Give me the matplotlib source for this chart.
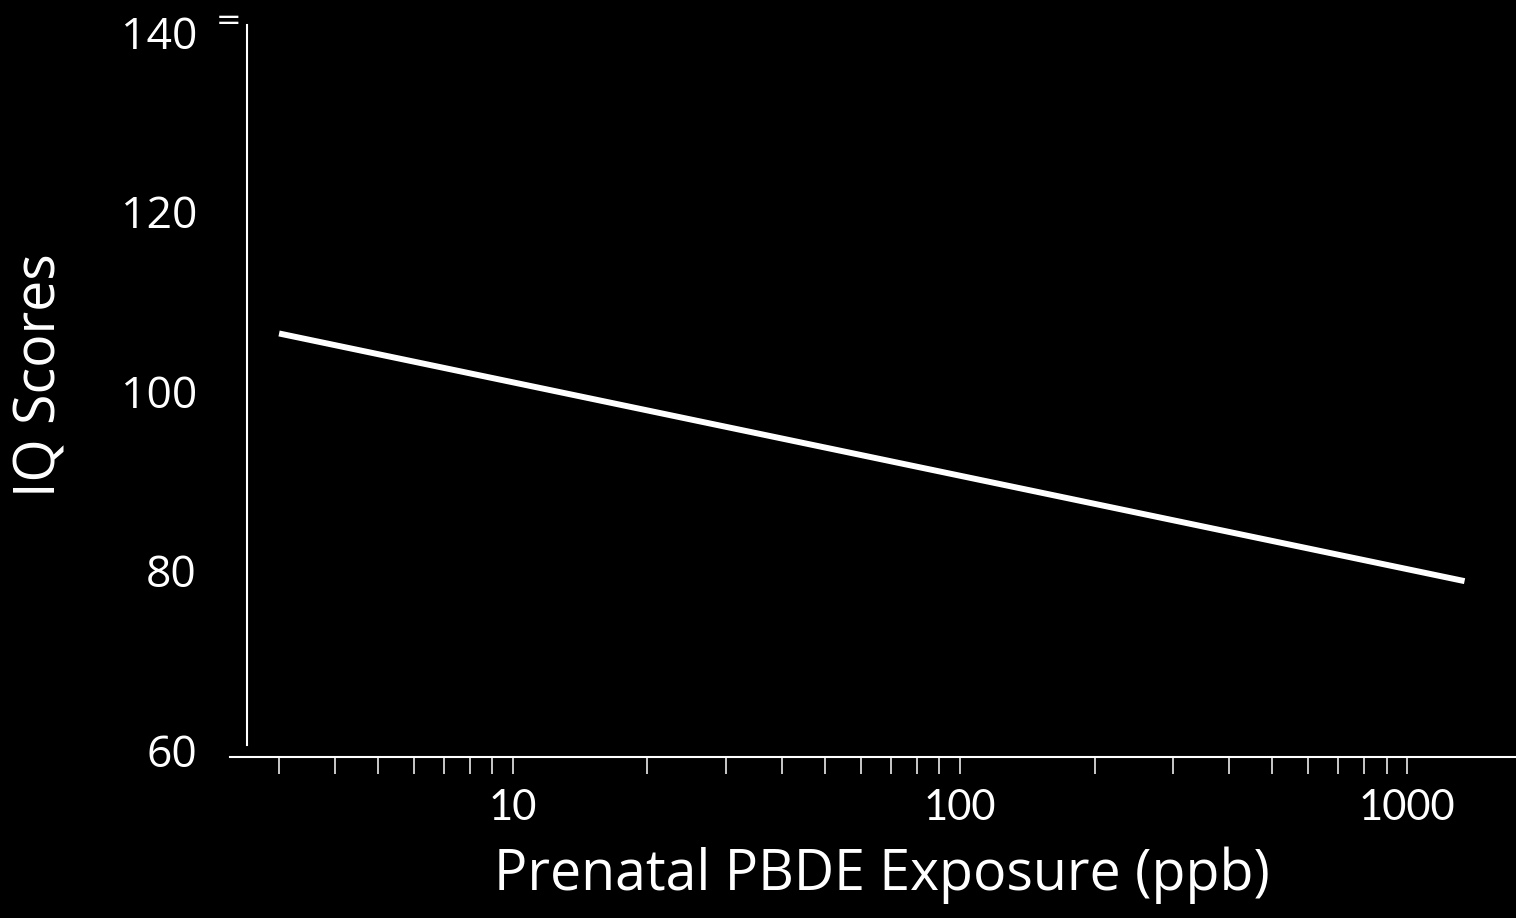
import numpy as np
import matplotlib
matplotlib.use('Agg')
import matplotlib.pyplot as plt
from matplotlib.ticker import FixedLocator, NullFormatter

# =====================================================================
# DATA
# =====================================================================
exposure_ppb = [3, 1345]          # start / end of the fitted line
iq_scores = [106.4, 78.8]

y_ticks = [60, 80, 100, 120, 140]
x_major = [10, 100, 1000]
x_major_labels = ["10", "100", "1000"]
x_minor = [3, 4, 5, 6, 7, 8, 9, 20, 30, 40, 50, 60, 70, 80, 90,
           200, 300, 400, 500, 600, 700, 800, 900]

# =====================================================================
# PLOT
# =====================================================================
fig = plt.figure(figsize=(15.16, 9.18), dpi=100, facecolor='black')
ax = fig.add_axes([230 / 1516, 1 - 757 / 918, 1286 / 1516, 734 / 918])
ax.set_facecolor('black')

ax.plot(exposure_ppb, iq_scores, color='white', linewidth=4.3, solid_capstyle='butt')

ax.set_xscale('log')
ax.set_xlim(2.33, 1753)
ax.set_ylim(59.2, 141)

# spines
for s in ['top', 'right']:
    ax.spines[s].set_visible(False)
ax.spines['left'].set_color('white')
ax.spines['left'].set_linewidth(1.5)
ax.spines['left'].set_position(('axes', 17 / 1286))
ax.spines['left'].set_bounds(60.5, 140.8)
ax.spines['bottom'].set_color('white')
ax.spines['bottom'].set_linewidth(1.5)

# y axis ticks
ax.set_yticks(y_ticks)
ax.set_yticklabels([str(v) for v in y_ticks], fontsize=32, family='Open Sans', color='white')
ax.tick_params(axis='y', length=0, pad=36)

# x axis ticks
ax.xaxis.set_major_locator(FixedLocator(x_major))
ax.xaxis.set_minor_locator(FixedLocator(x_minor))
ax.xaxis.set_minor_formatter(NullFormatter())
ax.set_xticklabels(x_major_labels, fontsize=30, family='Lato', color='white')
ax.tick_params(axis='x', which='both', direction='out', length=12, width=1.1,
               color='white', pad=11)

# axis titles
fig.text(882 / 1516, 1 - 890 / 918, "Prenatal PBDE Exposure (ppb)", color='white',
         fontsize=40, family='Open Sans', ha='center', va='baseline')
fig.text(41 / 1516, 1 - 375 / 918, "IQ Scores", color='white', rotation=90,
         fontsize=40, family='Open Sans', ha='center', va='center')

# small mark at the top of the y axis
fig.text(229 / 1516, 1 - 21 / 918, "=", color='white', fontsize=22, ha='center', va='center')

plt.savefig("out.png", dpi=100, facecolor='black')
